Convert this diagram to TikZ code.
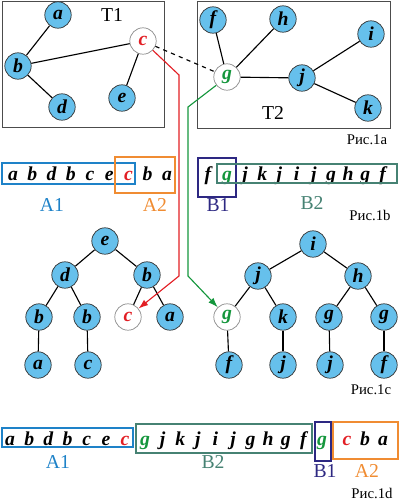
\documentclass[tikz,border=0pt]{standalone}
\usepackage{fontspec}
\setmainfont{Liberation Serif}
\usetikzlibrary{arrows.meta, positioning}
\definecolor{nodeblue}{RGB}{102,192,236}
\definecolor{seqred}{RGB}{226,30,36}
\definecolor{seqgreen}{RGB}{20,150,60}
\definecolor{boxAone}{RGB}{30,130,200}
\definecolor{boxAtwo}{RGB}{240,140,50}
\definecolor{boxBone}{RGB}{45,40,130}
\definecolor{boxBtwo}{RGB}{70,130,115}

\begin{document}
\begin{tikzpicture}[x=0.025cm, y=-0.025cm,
    vert/.style={draw=black!80, fill=nodeblue, circle, minimum size=0.66cm, inner sep=0pt, line width=0.5pt, font=\fontsize{14}{14}\selectfont\bfseries\itshape},
    rootvert/.style={vert, fill=white, draw=black!45},
    edge/.style={line width=0.8pt},
    seq/.style={anchor=base, inner sep=0pt, font=\fontsize{14}{14}\selectfont\bfseries\itshape},
    lbl/.style={font=\fontsize{14}{14}\selectfont},
    fig/.style={font=\fontsize{10.5}{10.5}\selectfont}]
    \useasboundingbox (0,0) rectangle (400,500);

    % Рис.1a: the two trees
    \draw[black!70, thin] (2,1) rectangle (164,127);
    \draw[black!70, thin] (197,1) rectangle (390,128);
    \node[lbl] (tone) at (112,15) {T1};
    \node[lbl] (ttwo) at (273,113) {T2};
    \node[fig] (figa) at (367,140) {Рис.1a};

    \node[vert] (a1) at (58,15) {a};
    \node[vert] (b1) at (18,66) {b};
    \node[vert] (d1) at (62,107) {d};
    \node[vert] (e1) at (122,98) {e};
    \node[rootvert, text=seqred] (c1) at (143,41) {c};
    \draw[edge] (a1) -- (b1);
    \draw[edge] (b1) -- (d1);
    \draw[edge] (b1) -- (c1);
    \draw[edge] (c1) -- (e1);

    \node[vert] (f2) at (213,20) {f};
    \node[vert] (h2) at (283,19) {h};
    \node[vert] (i2) at (371,34) {i};
    \node[rootvert, text=seqgreen] (g2) at (227,77) {g};
    \node[vert] (j2) at (302,78) {j};
    \node[vert] (k2) at (368,108) {k};
    \draw[edge] (f2) -- (g2);
    \draw[edge] (h2) -- (g2);
    \draw[edge] (g2) -- (j2);
    \draw[edge] (j2) -- (i2);
    \draw[edge] (j2) -- (k2);
    \draw[edge, dashed] (c1) -- (g2);

    % Рис.1b: the two walks
    \foreach \l [count=\n from 0] in {a,b,d,b,c,e}
        \node[seq] (wa\n) at (13+19.25*\n,180) {\l};
    \node[seq, text=seqred] (wac) at (128.5,180) {c};
    \node[seq] (wab) at (147.5,180) {b};
    \node[seq] (waa) at (167,180) {a};
    \node[seq] (wbf) at (208,180) {f};
    \node[seq, text=seqgreen] (wbg) at (227,180) {g};
    \foreach \l [count=\n from 0] in {j,k,j,i,j,g,h,g,f}
        \node[seq] (wb\n) at (245+17.2*\n,180) {\l};

    \draw[boxAone, thick] (2,163) rectangle (135,184);
    \draw[boxAtwo, thick] (115,157) rectangle (175,193);
    \draw[boxBone, thick] (198,158) rectangle (236,197);
    \draw[boxBtwo, thick] (217,164) rectangle (397,183);
    \node[lbl, text=boxAone] (laone) at (52,205) {A1};
    \node[lbl, text=boxAtwo] (latwo) at (155,205) {A2};
    \node[lbl, text=boxBone] (lbone) at (218,205) {B1};
    \node[lbl, text=boxBtwo] (lbtwo) at (312,203) {B2};
    \node[fig] (figb) at (370,215) {Рис.1b};

    % Рис.1c: the two heaps
    \node[vert] (le) at (105,241) {e};
    \node[vert] (ld) at (65,275) {d};
    \node[vert] (lb) at (147,275) {b};
    \node[vert] (lbl) at (39,317) {b};
    \node[vert] (lbm) at (87,317) {b};
    \node[rootvert, text=seqred] (lc) at (128,317) {c};
    \node[vert] (la) at (170,317) {a};
    \node[vert] (lal) at (38,365) {a};
    \node[vert] (lcm) at (88,365) {c};
    \draw[edge] (le) -- (ld);
    \draw[edge] (le) -- (lb);
    \draw[edge] (ld) -- (lbl);
    \draw[edge] (ld) -- (lbm);
    \draw[edge] (lb) -- (lc);
    \draw[edge] (lb) -- (la);
    \draw[edge] (lbl) -- (lal);
    \draw[edge] (lbm) -- (lcm);

    \node[vert] (ri) at (313,244) {i};
    \node[vert] (rj) at (258,276) {j};
    \node[vert] (rh) at (358,276) {h};
    \node[rootvert, text=seqgreen] (rg) at (227,317) {g};
    \node[vert] (rk) at (283,317) {k};
    \node[vert] (rgm) at (329,317) {g};
    \node[vert] (rgr) at (384,317) {g};
    \node[vert] (rf) at (229,365) {f};
    \node[vert] (rjk) at (283,365) {j};
    \node[vert] (rjm) at (330,365) {j};
    \node[vert] (rfr) at (384,365) {f};
    \draw[edge] (ri) -- (rj);
    \draw[edge] (ri) -- (rh);
    \draw[edge] (rj) -- (rg);
    \draw[edge] (rj) -- (rk);
    \draw[edge] (rh) -- (rgm);
    \draw[edge] (rh) -- (rgr);
    \draw[edge] (rg) -- (rf);
    \draw[edge] (rk) -- (rjk);
    \draw[edge] (rgm) -- (rjm);
    \draw[edge] (rgr) -- (rfr);
    \node[fig] (figc) at (371,390) {Рис.1c};

    % the roots carried from Рис.1a to Рис.1c
    \draw[seqred, line width=0.8pt, -{Latex[length=2.4mm, width=1.7mm]}] (c1) -- (179,75) -- (179,276) -- (lc);
    \draw[seqgreen, line width=0.8pt, -{Latex[length=2.4mm, width=1.7mm]}] (g2) -- (188,107) -- (188,276) -- (rg);

    % Рис.1d: the merged walk
    \foreach \l [count=\n from 0] in {a,b,d,b,c,e}
        \node[seq] (ma\n) at (10+19.2*\n,445) {\l};
    \node[seq, text=seqred] (mac) at (125,445) {c};
    \node[seq, text=seqgreen] (mbg) at (145,445) {g};
    \foreach \l [count=\n from 0] in {j,k,j,i,j,g,h,g,f}
        \node[seq] (mb\n) at (162.6+17.6*\n,445) {\l};
    \node[seq, text=seqgreen] (mgg) at (322,445) {g};
    \node[seq, text=seqred] (mcc) at (347,445) {c};
    \node[seq] (mcb) at (365,445) {b};
    \node[seq] (mca) at (383,445) {a};

    \draw[boxAone, thick] (2,428) rectangle (133,447);
    \draw[boxBtwo, thick] (136,424) rectangle (312,453);
    \draw[boxBone, thick] (315,422) rectangle (331,461);
    \draw[boxAtwo, thick] (333,422) rectangle (398,459);
    \node[lbl, text=boxAone] (mlaone) at (58,462) {A1};
    \node[lbl, text=boxBtwo] (mlbtwo) at (213,462) {B2};
    \node[lbl, text=boxBone] (mlbone) at (325,471) {B1};
    \node[lbl, text=boxAtwo] (mlatwo) at (367,471) {A2};
    \node[fig] (figd) at (372,493) {Рис.1d};
\end{tikzpicture}
\end{document}
